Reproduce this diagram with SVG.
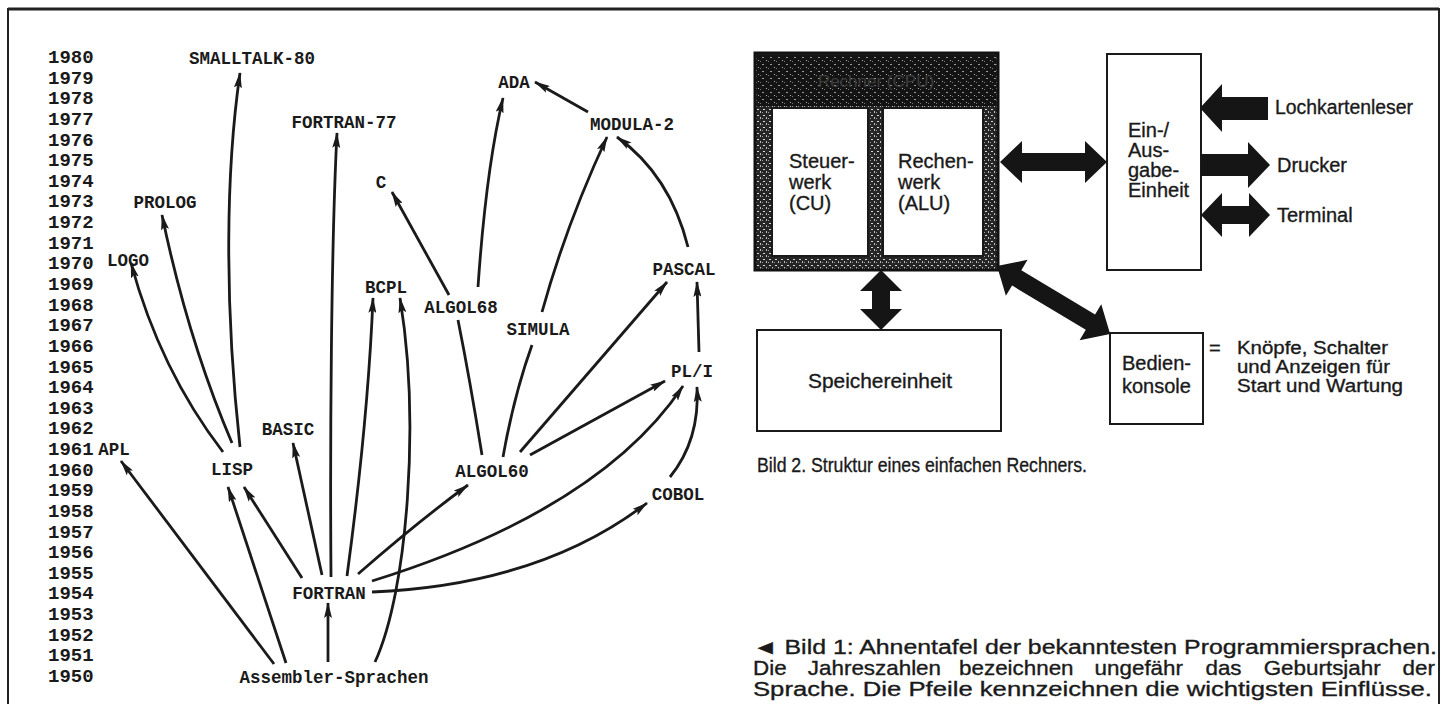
<svg xmlns="http://www.w3.org/2000/svg" width="1446" height="704" viewBox="0 0 1446 704">
<style>
.yr{font-family:"Liberation Mono",monospace;font-weight:bold;font-size:19px;fill:#1a1a1a}
.lb{font-family:"Liberation Mono",monospace;font-weight:bold;font-size:17.5px;fill:#1a1a1a;text-anchor:middle}
.ed{fill:none;stroke:#1a1a1a;stroke-width:2.8;marker-end:url(#ah)}
.ln{fill:none;stroke:#1a1a1a;stroke-width:2.8}
.sf{font-family:"Liberation Sans","DejaVu Sans",sans-serif;fill:#1a1a1a;font-size:20px;stroke:#1a1a1a;stroke-width:0.35}
.sm{font-size:18px}
.bx{fill:#fff;stroke:#1a1a1a;stroke-width:2}
.big{fill:#151515}
</style>
<defs>
<marker id="ah" viewBox="0 0 16 8" refX="15" refY="4" markerWidth="16" markerHeight="8" markerUnits="userSpaceOnUse" orient="auto">
<path d="M0,0 L16,4 L0,8 L3,4 Z" fill="#1a1a1a"/>
</marker>
<pattern id="mott" width="6" height="6" patternUnits="userSpaceOnUse">
<rect width="6" height="6" fill="#262626"/>
<rect x="1" y="1" width="2" height="1" fill="#d8d8d8"/>
<rect x="4" y="3" width="1" height="2" fill="#bdbdbd"/>
<rect x="0" y="4" width="1" height="1" fill="#9a9a9a"/>
</pattern>
<pattern id="dark" width="8" height="7" patternUnits="userSpaceOnUse">
<rect width="8" height="7" fill="#141414"/>
<rect x="2" y="1" width="2" height="1" fill="#9a9a9a"/>
<rect x="6" y="4" width="1" height="1" fill="#b0b0b0"/>
<rect x="0" y="5" width="1" height="1" fill="#777"/>
</pattern>
</defs>
<rect width="1446" height="704" fill="#fff"/>
<path d="M8,704 L8,9 L1439,9 L1439,704" fill="none" stroke="#222" stroke-width="2"/>
<line x1="8" y1="9" x2="1439" y2="9" stroke="#222" stroke-width="3"/>

<g id="years">
<text class="yr" x="48" y="63">1980</text>
<text class="yr" x="48" y="83.6">1979</text>
<text class="yr" x="48" y="104.3">1978</text>
<text class="yr" x="48" y="124.9">1977</text>
<text class="yr" x="48" y="145.5">1976</text>
<text class="yr" x="48" y="166.2">1975</text>
<text class="yr" x="48" y="186.8">1974</text>
<text class="yr" x="48" y="207.4">1973</text>
<text class="yr" x="48" y="228">1972</text>
<text class="yr" x="48" y="248.7">1971</text>
<text class="yr" x="48" y="269.3">1970</text>
<text class="yr" x="48" y="289.9">1969</text>
<text class="yr" x="48" y="310.6">1968</text>
<text class="yr" x="48" y="331.2">1967</text>
<text class="yr" x="48" y="351.8">1966</text>
<text class="yr" x="48" y="372.5">1965</text>
<text class="yr" x="48" y="393.1">1964</text>
<text class="yr" x="48" y="413.7">1963</text>
<text class="yr" x="48" y="434.3">1962</text>
<text class="yr" x="48" y="455">1961</text>
<text class="yr" x="48" y="475.6">1960</text>
<text class="yr" x="48" y="496.2">1959</text>
<text class="yr" x="48" y="516.9">1958</text>
<text class="yr" x="48" y="537.5">1957</text>
<text class="yr" x="48" y="558.1">1956</text>
<text class="yr" x="48" y="578.8">1955</text>
<text class="yr" x="48" y="599.4">1954</text>
<text class="yr" x="48" y="620">1953</text>
<text class="yr" x="48" y="640.6">1952</text>
<text class="yr" x="48" y="661.3">1951</text>
<text class="yr" x="48" y="682">1950</text>
</g>

<g id="connectors">
<path class="ed" d="M274,664 L121,461"/>
<path class="ed" d="M286,663 L228,487"/>
<path class="ed" d="M328,662 L328,603"/>
<path class="ed" d="M375,662 C408,590 420,420 400,298"/>
<path class="ed" d="M347,576 Q368,420 373,298"/>
<path class="ed" d="M331,577 C330,450 331,250 337,133"/>
<path class="ed" d="M302,578 L244,487"/>
<path class="ed" d="M322,575 L293,443"/>
<path class="ed" d="M358,574 Q420,520 468,485"/>
<path class="ed" d="M372,581 Q600,510 683,386"/>
<path class="ed" d="M372,592 Q540,585 647,503"/>
<path class="ed" d="M240,447 C224,300 226,170 240,73"/>
<path class="ed" d="M232,443 Q188,340 162,215"/>
<path class="ed" d="M223,452 Q160,370 131,263"/>
<path class="ln" d="M482,455 Q470,380 458,320"/>
<path class="ed" d="M449,295 L392,192"/>
<path class="ed" d="M478,287 Q486,170 503,98"/>
<path class="ln" d="M503,457 Q514,395 532,345"/>
<path class="ed" d="M542,312 Q566,225 607,137"/>
<path class="ed" d="M588,112 L535,82"/>
<path class="ed" d="M688,247 Q670,175 617,137"/>
<path class="ed" d="M520,452 L667,282"/>
<path class="ed" d="M530,455 L665,381"/>
<path class="ed" d="M699,352 L697,282"/>
<path class="ed" d="M670,477 Q700,440 697,387"/>
</g>

<g id="n-smalltalk"><text class="lb" x="252" y="64">SMALLTALK-80</text></g>
<g id="n-fortran77"><text class="lb" x="344" y="128">FORTRAN-77</text></g>
<g id="n-c"><text class="lb" x="381" y="188">C</text></g>
<g id="n-prolog"><text class="lb" x="165" y="208">PROLOG</text></g>
<g id="n-logo"><text class="lb" x="128" y="266">LOGO</text></g>
<g id="n-bcpl"><text class="lb" x="386" y="293">BCPL</text></g>
<g id="n-algol68"><text class="lb" x="461" y="313">ALGOL68</text></g>
<g id="n-simula"><text class="lb" x="538" y="335">SIMULA</text></g>
<g id="n-ada"><text class="lb" x="514" y="88">ADA</text></g>
<g id="n-modula2"><text class="lb" x="632" y="130">MODULA-2</text></g>
<g id="n-pascal"><text class="lb" x="684" y="275">PASCAL</text></g>
<g id="n-pli"><text class="lb" x="692" y="377">PL/I</text></g>
<g id="n-algol60"><text class="lb" x="492" y="477">ALGOL60</text></g>
<g id="n-cobol"><text class="lb" x="678" y="500">COBOL</text></g>
<g id="n-lisp"><text class="lb" x="232" y="475">LISP</text></g>
<g id="n-basic"><text class="lb" x="288" y="435">BASIC</text></g>
<g id="n-fortran"><text class="lb" x="329" y="599">FORTRAN</text></g>
<g id="n-apl"><text class="lb" x="114" y="455">APL</text></g>
<g id="n-asm"><text class="lb" x="334" y="683">Assembler-Sprachen</text></g>

<g id="rechner">
<rect x="755" y="53" width="243" height="217" fill="url(#mott)" stroke="#111" stroke-width="3"/>
<rect x="757" y="55" width="239" height="51" fill="url(#dark)"/>
<text x="876" y="87" text-anchor="middle" font-family="Liberation Sans,sans-serif" font-size="17" fill="#3c3c3c">Rechner (CPU)</text>
<rect class="bx" x="772" y="108" width="96" height="148"/>
<rect class="bx" x="883" y="108" width="100" height="148"/>
<text class="sf" x="789" y="168">Steuer-</text>
<text class="sf" x="789" y="189">werk</text>
<text class="sf" x="789" y="210">(CU)</text>
<text class="sf" x="898" y="168">Rechen-</text>
<text class="sf" x="898" y="189">werk</text>
<text class="sf" x="898" y="210">(ALU)</text>
</g>

<g id="ea">
<rect class="bx" x="1107" y="54" width="94" height="216"/>
<text class="sf" x="1128" y="137">Ein-/</text>
<text class="sf" x="1128" y="157">Aus-</text>
<text class="sf" x="1128" y="177">gabe-</text>
<text class="sf" x="1128" y="197">Einheit</text>
</g>

<g id="speicher">
<rect class="bx" x="757" y="330" width="244" height="101"/>
<text class="sf" x="880" y="388" text-anchor="middle" textLength="144" lengthAdjust="spacingAndGlyphs">Speichereinheit</text>
</g>

<g id="bedien">
<rect class="bx" x="1110" y="333" width="93" height="91"/>
<text class="sf" x="1122" y="370">Bedien-</text>
<text class="sf" x="1122" y="393">konsole</text>
</g>

<g id="io-labels">
<text class="sf" x="1275" y="114" textLength="138" lengthAdjust="spacingAndGlyphs">Lochkartenleser</text>
<text class="sf" x="1277" y="172">Drucker</text>
<text class="sf" x="1277" y="222">Terminal</text>
<text class="sf" x="1209" y="355">=</text>
<text class="sf sm" x="1237" y="354" textLength="151" lengthAdjust="spacingAndGlyphs">Knöpfe, Schalter</text>
<text class="sf sm" x="1237" y="373" textLength="153" lengthAdjust="spacingAndGlyphs">und Anzeigen für</text>
<text class="sf sm" x="1237" y="392" textLength="166" lengthAdjust="spacingAndGlyphs">Start und Wartung</text>
</g>

<g id="block-arrows">
<path class="big" d="M1000,162 L1022,141 L1022,153 L1085,153 L1085,141 L1107,162 L1085,183 L1085,171 L1022,171 L1022,183 Z"/>
<path class="big" d="M881,270 L902,291 L890,291 L890,309 L902,309 L881,330 L860,309 L872,309 L872,291 L860,291 Z"/>
<path class="big" transform="translate(997,266) rotate(31)" d="M0,0 L23,-21 L23,-9 L109,-9 L109,-21 L132,0 L109,21 L109,9 L23,9 L23,21 Z"/>
<path class="big" d="M1200,108 L1222,84 L1222,97 L1268,97 L1268,120 L1222,120 L1222,132 Z"/>
<path class="big" d="M1201,154 L1248,154 L1248,142 L1270,165 L1248,188 L1248,176 L1201,176 Z"/>
<path class="big" d="M1201,215 L1222,193 L1222,206 L1249,206 L1249,193 L1270,215 L1249,237 L1249,224 L1222,224 L1222,237 Z"/>
</g>

<g id="captions">
<text class="sf" x="757" y="472" textLength="330" lengthAdjust="spacingAndGlyphs">Bild 2. Struktur eines einfachen Rechners.</text>
<text class="sf" x="753" y="654" textLength="684" lengthAdjust="spacingAndGlyphs">◄ Bild 1: Ahnentafel der bekanntesten Programmiersprachen.</text>
<text class="sf" transform="translate(753,675) scale(1.12,1)" y="0"><tspan x="0">Die</tspan> <tspan x="49">Jahreszahlen</tspan> <tspan x="184">bezeichnen</tspan> <tspan x="305">ungefähr</tspan> <tspan x="404">das</tspan> <tspan x="456">Geburtsjahr</tspan> <tspan x="580">der</tspan></text>
<text class="sf" x="753" y="696" textLength="679" lengthAdjust="spacingAndGlyphs">Sprache. Die Pfeile kennzeichnen die wichtigsten Einflüsse.</text>
</g>
</svg>
